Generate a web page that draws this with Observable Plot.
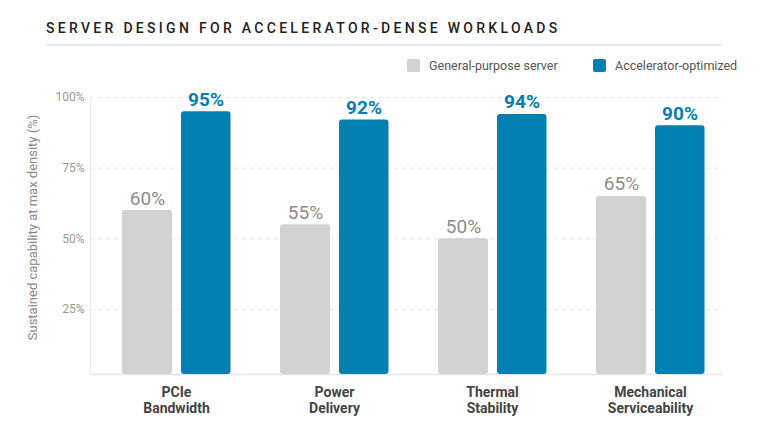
<!DOCTYPE html>
<html>
<head>
<meta charset="utf-8">
<script src="https://cdn.jsdelivr.net/npm/d3@7"></script>
<script src="https://cdn.jsdelivr.net/npm/@observablehq/plot@0.6"></script>
<style>
  html, body { margin: 0; padding: 0; background: #fff; }
  #wrap { position: relative; width: 768px; height: 427px; font-family: Roboto, "Noto Sans", sans-serif; overflow: hidden; }
  #title { position: absolute; left: 46px; top: 20px; font-size: 14px; font-weight: 500; letter-spacing: 3.3px; color: #222; white-space: nowrap; }
  #sep { position: absolute; left: 46px; top: 44px; width: 676px; height: 2px; background: #dbeaf2; }
  #legend { position: absolute; top: 58px; left: 0; width: 768px; height: 16px; font-size: 12.5px; color: #555; }
  .item { position: absolute; top: 0; display: flex; align-items: center; white-space: nowrap; }
  .sw { width: 13px; height: 13px; border-radius: 2px; margin-right: 9px; }
  #chart { position: absolute; left: 0; top: 0; }
</style>
</head>
<body>
<div id="wrap">
  <div id="chart"></div>
  <div id="title"></div>
  <div id="sep"></div>
  <div id="legend"></div>
</div>
<script>
const titleText = "SERVER DESIGN FOR ACCELERATOR-DENSE WORKLOADS";
const categories = ["PCIe Bandwidth", "Power Delivery", "Thermal Stability", "Mechanical Serviceability"];
const categoryLines = [["PCIe", "Bandwidth"], ["Power", "Delivery"], ["Thermal", "Stability"], ["Mechanical", "Serviceability"]];
const seriesNames = ["General-purpose server", "Accelerator-optimized"];
const seriesColors = ["#d1d2d4", "#0380b3"];
const labelColors = ["#8c8c8c", "#0380b3"];
const generalValues = [60, 55, 50, 65];
const acceleratorValues = [95, 92, 94, 90];
const yTicks = [25, 50, 75, 100];
const yDomain = [2, 100];
const yLabel = "Sustained capability at max density (%)";

document.getElementById("title").textContent = titleText;

// legend
const legend = document.getElementById("legend");
const legendLeft = [407, 593];
seriesNames.forEach((name, i) => {
  const it = document.createElement("div");
  it.className = "item";
  it.style.left = legendLeft[i] + "px";
  const sw = document.createElement("div");
  sw.className = "sw";
  sw.style.background = seriesColors[i];
  const tx = document.createElement("span");
  tx.textContent = name;
  it.appendChild(sw); it.appendChild(tx);
  legend.appendChild(it);
});

const rows = [];
categories.forEach((c, i) => {
  rows.push({category: c, series: seriesNames[0], value: generalValues[i]});
  rows.push({category: c, series: seriesNames[1], value: acceleratorValues[i]});
});
const general = rows.filter(d => d.series === seriesNames[0]);
const accel = rows.filter(d => d.series === seriesNames[1]);
const lineMap = new Map(categories.map((c, i) => [c, categoryLines[i].join("\n")]));

const chart = Plot.plot({
  width: 768,
  height: 427,
  marginTop: 97,
  marginBottom: 53,
  marginLeft: 90,
  marginRight: 45,
  style: {fontFamily: "Roboto, 'Noto Sans', sans-serif", background: "transparent"},
  x: {domain: categories, range: [97, 729], padding: 0, label: null},
  y: {domain: yDomain, label: null},
  marks: [
    Plot.gridY(yTicks, {stroke: "#e4e4e4", strokeOpacity: 1, strokeDasharray: "4,4"}),
    Plot.frame({anchor: "left", stroke: "#e8e8e8"}),
    Plot.ruleY([yDomain[0]], {stroke: "#e6e6e6", strokeWidth: 1.5}),
    Plot.barY(general, {x: "category", y1: yDomain[0], y2: "value", fill: seriesColors[0], insetLeft: 25, insetRight: 83, rx: 3}),
    Plot.barY(accel, {x: "category", y1: yDomain[0], y2: "value", fill: seriesColors[1], insetLeft: 84, insetRight: 24.5, rx: 3}),
    Plot.text(general, {x: "category", y: "value", text: d => d.value + "%", dx: -29, dy: -6, lineAnchor: "bottom", fill: labelColors[0], fontSize: 19}),
    Plot.text(accel, {x: "category", y: "value", text: d => d.value + "%", dx: 29.5, dy: -6, lineAnchor: "bottom", fill: labelColors[1], fontSize: 19, fontWeight: "bold"}),
    Plot.axisY({ticks: yTicks, tickSize: 0, tickPadding: 6, tickFormat: d => d + "%", fill: "#9a9a9a", fontSize: 12, label: null}),
    Plot.text([yLabel], {text: d => d, frameAnchor: "left", textAnchor: "middle", lineAnchor: "middle", rotate: -90, dx: -58, dy: -8.5, fill: "#888", fontSize: 13}),
    Plot.axisX({tickSize: 0, tickPadding: 12, tickFormat: d => lineMap.get(d), fill: "#444", fontSize: 14, fontWeight: "bold", lineHeight: 1.1, label: null})
  ]
});
document.getElementById("chart").appendChild(chart);
</script>
</body>
</html>
